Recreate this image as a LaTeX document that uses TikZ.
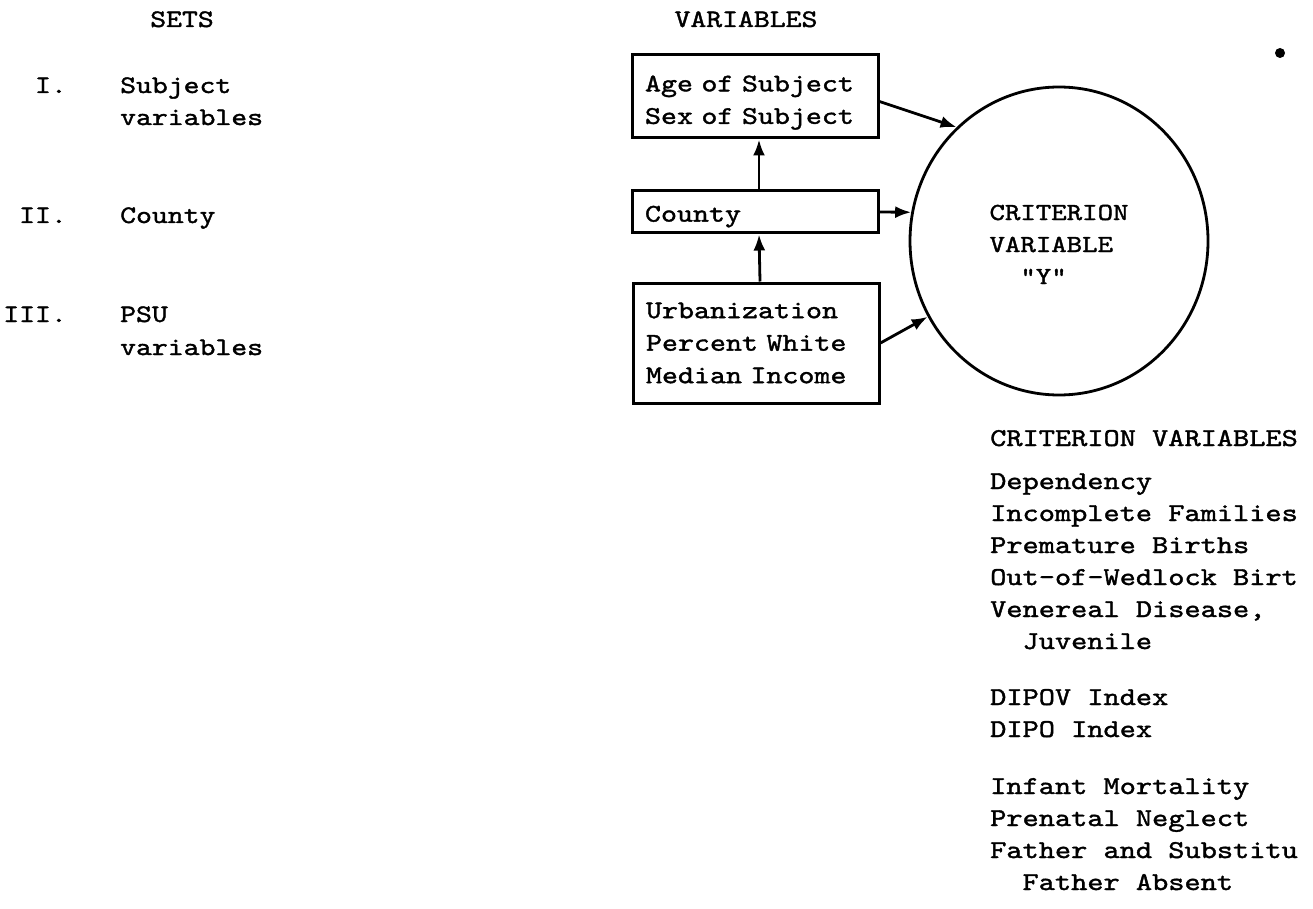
\documentclass[tikz,border=0pt]{standalone}
\usepackage{fontspec}
\usetikzlibrary{arrows.meta,shapes.geometric}
\newfontfamily\lmtw{lmmono10-regular.otf}[FakeStretch=1.2,FakeBold=1.5]
\newcommand\twfont[2]{\fontsize{#1}{#2}\selectfont\lmtw}
\begin{document}
\begin{tikzpicture}[x=1pt,y=-1pt,
  txt/.style={inner sep=0pt,font=\twfont{25.2}{32}},
  ltxt/.style={inner sep=0pt,anchor=base west,font=\twfont{25.7}{32}},
  boxnode/.style={draw,line width=3pt,inner sep=0pt,minimum width=246pt,text width=220pt,align=left,font=\twfont{25.4}{32.5}},
  conn/.style={line width=2.8pt,-{Latex[length=16pt,width=12pt]}},
]
\useasboundingbox (0,0) rectangle (1313,909);
% headings
\node[txt,anchor=base] (sets) at (182,27) {SETS};
\node[txt,anchor=base] (vars) at (746,27) {VARIABLES};
% sets column
\node[txt,anchor=base east] (n1) at (67,93) {I.};
\node[txt,anchor=base west] (s1a) at (120,93) {Subject};
\node[txt,anchor=base west] (s1b) at (120,125) {variables};
\node[txt,anchor=base east] (n2) at (67,223) {II.};
\node[txt,anchor=base west] (s2) at (120,223) {County};
\node[txt,anchor=base east] (n3) at (67,322) {III.};
\node[txt,anchor=base west] (s3a) at (120,322) {PSU};
\node[txt,anchor=base west] (s3b) at (120,355) {variables};
% boxes
\node[boxnode,minimum height=83pt] (b1) at (755,96.5) {\rule{0pt}{28pt}Age of Subject\\Sex of Subject};
\node[boxnode,minimum height=42pt] (b2) at (755,212) {\rule{0pt}{25pt}County};
\node[boxnode,minimum height=120pt] (b3) at (756,343) {Urbanization\\Percent White\\Median Income};
% criterion circle
\node[draw,ellipse,line width=2.8pt,minimum width=298pt,minimum height=308pt,inner sep=0pt,align=left,font=\twfont{24.5}{32}] (crit) at (1059,241) {\rule{0pt}{22pt}CRITERION\\VARIABLE\\\phantom{XX}"Y"};
% connectors
\draw[conn] ([xshift=4pt]b2.north) -- ([xshift=4pt]b1.south);
\draw[conn] ([xshift=4pt]b3.north) -- ([xshift=4pt]b2.south);
\draw[conn] ([yshift=-5pt]b1.east) -- (crit.132);
\draw[conn] (b2.east) -- (crit.169);
\draw[conn] (b3.east) -- (crit.210);
% dot
\node[circle,fill,inner sep=0pt,minimum size=10pt] (dot) at (1280,53) {};
% criterion variables list
\node[ltxt] (h) at (990,446) {CRITERION VARIABLES};
\node[ltxt] (c1) at (990,489) {Dependency};
\node[ltxt] (c2) at (990,521) {Incomplete Families};
\node[ltxt] (c3) at (990,553) {Premature Births};
\node[ltxt] (c4) at (990,585) {Out-of-Wedlock Birt};
\node[ltxt] (c5) at (990,617) {Venereal Disease,};
\node[ltxt] (c6) at (990,649) {\phantom{XX}Juvenile};
\node[ltxt] (c7) at (990,705) {DIPOV Index};
\node[ltxt] (c8) at (990,737) {DIPO Index};
\node[ltxt] (c9) at (990,794) {Infant Mortality};
\node[ltxt] (c10) at (990,826) {Prenatal Neglect};
\node[ltxt] (c11) at (990,858) {Father and Substitu};
\node[ltxt] (c12) at (990,890) {\phantom{XX}Father Absent};
\end{tikzpicture}
\end{document}
